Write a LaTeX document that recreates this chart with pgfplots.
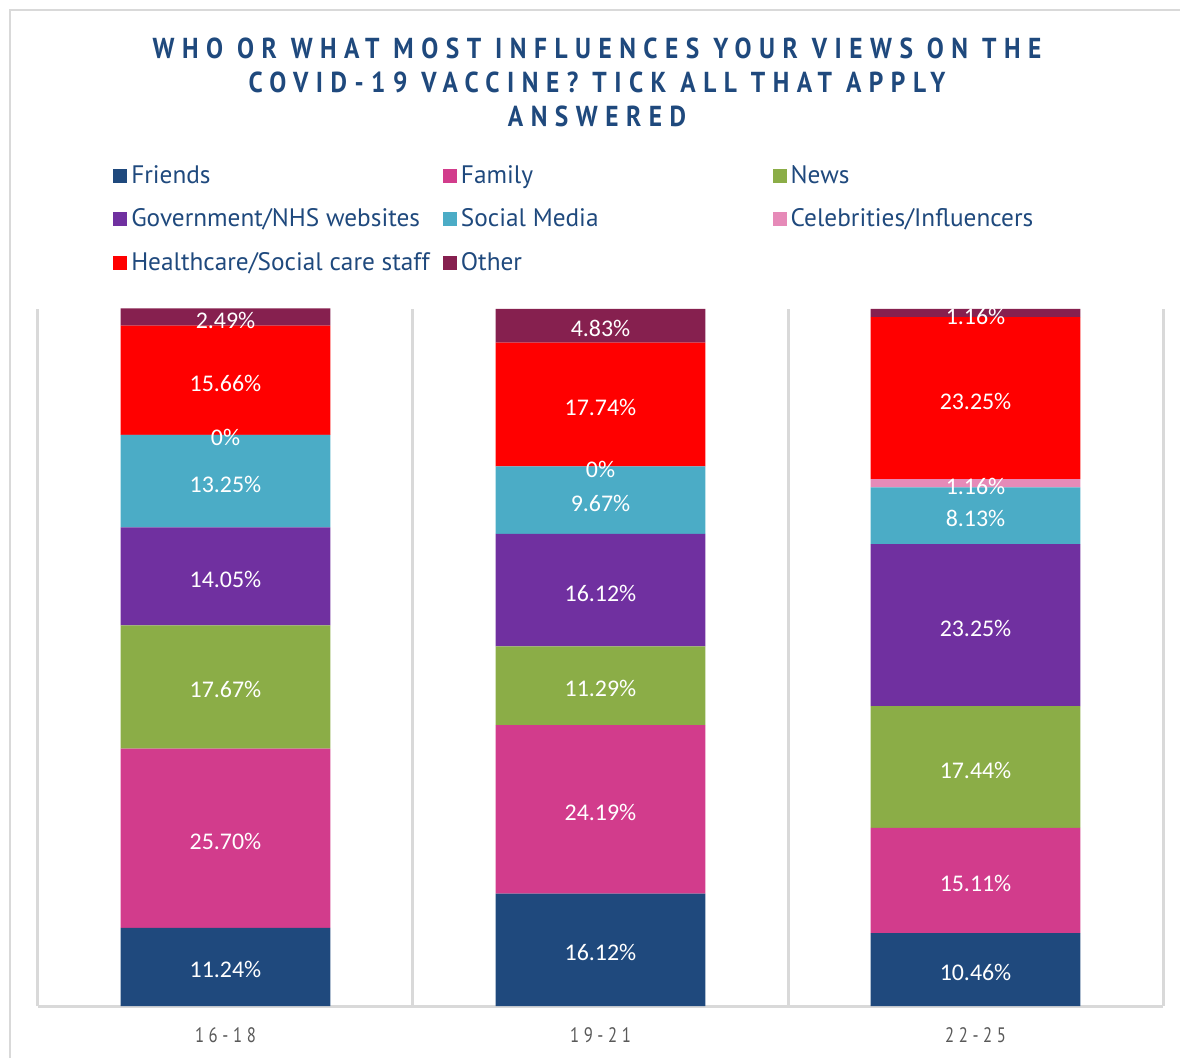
\documentclass[border=0pt]{standalone}
\usepackage{fontspec}
\setmainfont{Carlito}
\newfontfamily\legfont{PT Sans}
\newfontfamily\titlefont[FakeStretch=0.88,LetterSpace=26]{PT Sans}
\newfontfamily\tickfont[FakeStretch=0.8,LetterSpace=22]{PT Sans}
\usepackage{pgfplots}
\pgfplotsset{compat=1.18}
\definecolor{cFriends}{RGB}{31,73,125}
\definecolor{cFamily}{RGB}{210,60,140}
\definecolor{cNews}{RGB}{139,173,71}
\definecolor{cGov}{RGB}{112,48,160}
\definecolor{cSocial}{RGB}{75,172,198}
\definecolor{cCeleb}{RGB}{230,138,184}
\definecolor{cHealth}{RGB}{255,0,0}
\definecolor{cOther}{RGB}{134,32,79}
\definecolor{titleblue}{RGB}{31,73,125}
\definecolor{gridgray}{RGB}{217,217,217}
\definecolor{ticktext}{RGB}{89,89,89}

\pgfplotsset{
  seg/.style={fill=#1,draw=none,
    legend image code/.code={\fill[#1] (0bp,-3.5bp) rectangle (7bp,3.5bp);}},
}

\begin{document}
\begin{tikzpicture}[x=1bp,y=1bp]
\path (0,0) rectangle (590.5,529.5);
\draw[gridgray,line width=1bp] (5,0) -- (5,524.5) -- (590.5,524.5);

\node[font=\titlefont\bfseries\fontsize{14.5}{17}\selectfont,text=titleblue] at (298.75,505.5) {WHO OR WHAT MOST INFLUENCES YOUR VIEWS ON THE};
\node[font=\titlefont\bfseries\fontsize{14.5}{17}\selectfont,text=titleblue] at (298.75,488.5) {COVID-19 VACCINE? TICK ALL THAT APPLY};
\node[font=\titlefont\bfseries\fontsize{14.5}{17}\selectfont,text=titleblue] at (298.75,471) {ANSWERED};

\begin{axis}[
  at={(19bp,26bp)},anchor=south west,
  scale only axis,width=563bp,height=349bp,
  ybar stacked,bar width=105bp,
  xmin=-0.5,xmax=2.5,ymin=0,ymax=100,
  clip=false,
  axis y line=none,axis x line*=bottom,
  x axis line style={draw=gridgray,line width=1.5bp},
  xtick={0,1,2},xticklabels={16-18,19-21,22-25},
  major tick length=0pt,
  xticklabel style={font=\tickfont\fontsize{10.5}{12}\selectfont,text=ticktext,anchor=center,yshift=-14.5bp},
  extra x ticks={-0.5,0.5,1.5,2.5},extra x tick labels={},
  extra x tick style={grid=major,major grid style={draw=gridgray,line width=1.5bp}},
  point meta=explicit symbolic,
  nodes near coords,
  every node near coord/.append style={font=\fontsize{12}{13}\selectfont,text=white,anchor=center,yshift=-1.5bp},
  legend columns=3,
  legend style={draw=none,fill=none,at={(0,1)},anchor=north west,xshift=34.5bp,yshift=76bp,
    font=\legfont\fontsize{12.7}{14}\selectfont,text=titleblue,
    /tikz/every even column/.append style={column sep=0pt},row sep=7.25bp},
  legend cell align=left,
]
\addplot[seg=cFriends] coordinates {(0,11.24) [11.24\%] (1,16.12) [16.12\%] (2,10.46) [10.46\%]};
\addlegendentry{\makebox[154bp][l]{Friends}}
\addplot[seg=cFamily] coordinates {(0,25.70) [25.70\%] (1,24.19) [24.19\%] (2,15.11) [15.11\%]};
\addlegendentry{\makebox[154bp][l]{Family}}
\addplot[seg=cNews] coordinates {(0,17.67) [17.67\%] (1,11.29) [11.29\%] (2,17.44) [17.44\%]};
\addlegendentry{\makebox[154bp][l]{News}}
\addplot[seg=cGov] coordinates {(0,14.05) [14.05\%] (1,16.12) [16.12\%] (2,23.25) [23.25\%]};
\addlegendentry{\makebox[154bp][l]{Government/NHS websites}}
\addplot[seg=cSocial] coordinates {(0,13.25) [13.25\%] (1,9.67) [9.67\%] (2,8.13) [8.13\%]};
\addlegendentry{\makebox[154bp][l]{Social Media}}
\addplot[seg=cCeleb] coordinates {(0,0.001) [0\%] (1,0.001) [0\%] (2,1.16) [1.16\%]};
\addlegendentry{\makebox[154bp][l]{Celebrities/Influencers}}
\addplot[seg=cHealth] coordinates {(0,15.66) [15.66\%] (1,17.74) [17.74\%] (2,23.25) [23.25\%]};
\addlegendentry{\makebox[154bp][l]{Healthcare/Social care staff}}
\addplot[seg=cOther] coordinates {(0,2.49) [2.49\%] (1,4.83) [4.83\%] (2,1.16) [1.16\%]};
\addlegendentry{\makebox[154bp][l]{Other}}
\end{axis}
\end{tikzpicture}
\end{document}
